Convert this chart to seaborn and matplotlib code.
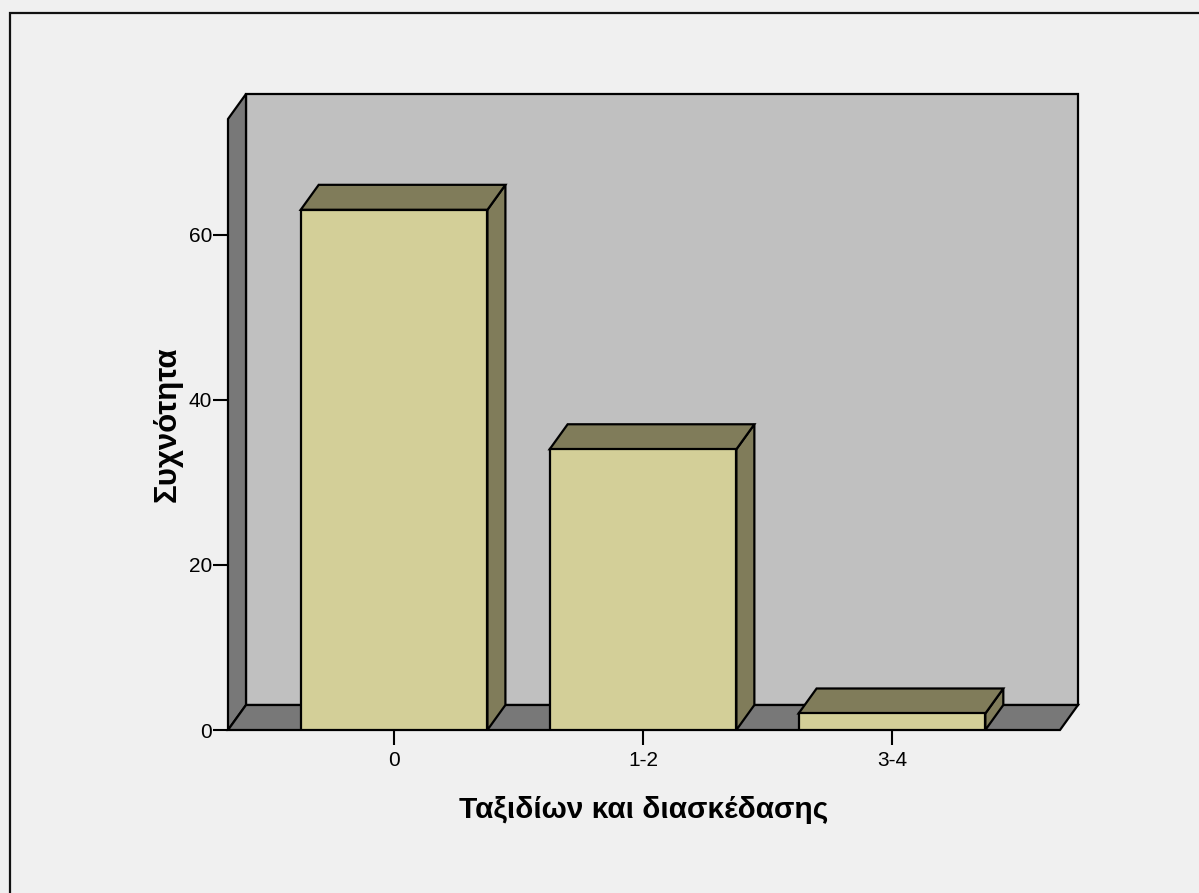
import matplotlib
matplotlib.use("Agg")
import matplotlib.pyplot as plt
import seaborn as sns
from matplotlib.patches import Polygon, Rectangle

# Data
categories = ["0", "1-2", "3-4"]
counts = [63, 34, 2]
y_ticks = [0, 20, 40, 60]
x_label = "Ταξιδίων και διασκέδασης"
y_label = "Συχνότητα"

# colours
bg = "#F0F0F0"
wall = "#C0C0C0"
floor = "#787878"
bar_front = "#D3CF98"
bar_dark = "#807C5A"

sns.set_style("white")
plt.rcParams["font.family"] = ["Liberation Sans", "DejaVu Sans"]
plt.rcParams["text.color"] = "black"
plt.rcParams["axes.labelcolor"] = "black"
plt.rcParams["xtick.color"] = "black"
plt.rcParams["ytick.color"] = "black"

W, H = 1199, 893
fig = plt.figure(figsize=(W / 100, H / 100), dpi=100, facecolor=bg)

# axes box in pixels: left 228, right 1060, bottom 730, top 119
ax_l, ax_r, ax_b, ax_t = 228, 1060, 730, 119
ax = fig.add_axes([ax_l / W, (H - ax_b) / H, (ax_r - ax_l) / W, (ax_b - ax_t) / H])
ax.set_facecolor("none")

# depth of the 3d effect in pixels
dpx, dpy = 18, 25
dxa = dpx / (ax_r - ax_l)
dya = dpy / (ax_b - ax_t)

# outer frame
fig.patches.append(Rectangle((10 / W, -0.1), 1.2, (H - 13) / H + 0.1,
                             transform=fig.transFigure, fill=False,
                             edgecolor="#111111", linewidth=1.6, zorder=0))

lw = 1.6
# back wall
ax.add_patch(Polygon([(dxa, dya), (1 + dxa, dya), (1 + dxa, 1 + dya), (dxa, 1 + dya)],
                     closed=True, transform=ax.transAxes, facecolor=wall,
                     edgecolor="black", linewidth=lw, clip_on=False, zorder=0.1))
# left wall
ax.add_patch(Polygon([(0, 0), (dxa, dya), (dxa, 1 + dya), (0, 1)],
                     closed=True, transform=ax.transAxes, facecolor=floor,
                     edgecolor="black", linewidth=lw, clip_on=False, zorder=0.2))
# floor
ax.add_patch(Polygon([(0, 0), (1, 0), (1 + dxa, dya), (dxa, dya)],
                     closed=True, transform=ax.transAxes, facecolor=floor,
                     edgecolor="black", linewidth=lw, clip_on=False, zorder=0.2))

sns.barplot(x=categories, y=counts, color=bar_front, saturation=1, width=0.75,
            edgecolor="black", linewidth=lw, ax=ax, zorder=3)

xmin, xmax = -0.667, 2.675
ymin, ymax = 0, 74
ax.set_xlim(xmin, xmax)
ax.set_ylim(ymin, ymax)
ddx = dxa * (xmax - xmin)
ddy = dya * (ymax - ymin)

for p in list(ax.patches):
    if p.get_zorder() != 3:
        continue
    x0 = p.get_x()
    w = p.get_width()
    h = p.get_height()
    top = [(x0, h), (x0 + w, h), (x0 + w + ddx, h + ddy), (x0 + ddx, h + ddy)]
    side = [(x0 + w, 0), (x0 + w + ddx, ddy), (x0 + w + ddx, h + ddy), (x0 + w, h)]
    for verts in (side, top):
        ax.add_patch(Polygon(verts, closed=True, facecolor=bar_dark,
                             edgecolor="black", linewidth=lw, zorder=2.5,
                             clip_on=False))

for s in ax.spines.values():
    s.set_visible(False)

ax.set_yticks(y_ticks)
ax.tick_params(axis="both", direction="out", length=11, width=1.5,
               labelsize=15, bottom=True, left=True)
ax.tick_params(axis="y", pad=0.5)
ax.tick_params(axis="x", pad=4)

ax.set_xlabel(x_label, fontsize=21.5, fontweight="bold", labelpad=19)
ax.set_ylabel(y_label, fontsize=22.5, fontweight="bold", labelpad=4)

fig.savefig("out.png", dpi=100, facecolor=bg)
